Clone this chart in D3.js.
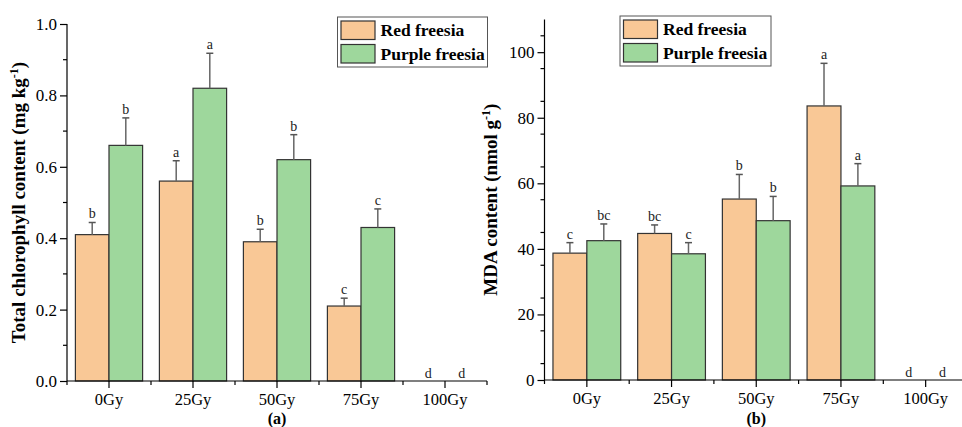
<!DOCTYPE html>
<html><head><meta charset="utf-8">
<script src="https://cdn.jsdelivr.net/npm/d3@7"></script>
<style>body{margin:0;background:#fff}svg{display:block}text{font-family:"Liberation Serif","Times New Roman",serif}</style>
</head><body>
<svg id="c" width="962" height="427"></svg>
<script>
const categories = ["0Gy","25Gy","50Gy","75Gy","100Gy"];
const seriesNames = ["Red freesia","Purple freesia"];
const colors = ["#F9C896","#9ED79C"];
// Panel (a): total chlorophyll
const chlRed = [0.41,0.56,0.39,0.21,0];
const chlRedErr = [0.034,0.057,0.035,0.022,0];
const chlPurple = [0.66,0.82,0.62,0.43,0];
const chlPurpleErr = [0.077,0.098,0.07,0.052,0];
const chlRedLetters = ["b","a","b","c","d"];
const chlPurpleLetters = ["b","a","b","c","d"];
const chlTicks = [0,0.2,0.4,0.6,0.8,1.0];
// Panel (b): MDA
const mdaRed = [38.7,44.7,55.2,83.6,0];
const mdaRedErr = [3.2,2.6,7.5,13.0,0];
const mdaPurple = [42.5,38.5,48.6,59.2,0];
const mdaPurpleErr = [5.1,3.4,7.4,6.8,0];
const mdaRedLetters = ["c","bc","b","a","d"];
const mdaPurpleLetters = ["bc","c","b","a","d"];
const mdaTicks = [0,20,40,60,80,100];

const svg = d3.select("#c");

function panel(o){
  const g = svg.append("g");
  const x = d3.scaleBand().domain(categories).range([o.x0,o.x1]).paddingInner(0.2).paddingOuter(0.1);
  const xb = d3.scaleBand().domain(categories).range([o.x0,o.x1]);
  const y = d3.scaleLinear().domain(o.domain).range([o.y0,o.y1]);
  const sub = d3.scaleBand().domain([0,1]).range([0,x.bandwidth()]);
  const series = [o.red,o.purple], errs=[o.redErr,o.purpleErr], letters=[o.redL,o.purpleL];
  // bars
  series.forEach((vals,si)=>{
    const gg = g.append("g");
    vals.forEach((v,i)=>{
      if(v<=0) return;
      gg.append("rect").attr("x",x(categories[i])+sub(si)).attr("y",y(v))
        .attr("width",sub.bandwidth()).attr("height",y(0)-y(v))
        .attr("fill",colors[si]).attr("stroke","#333").attr("stroke-width",1.2);
    });
  });
  // error bars & letters
  series.forEach((vals,si)=>{
    vals.forEach((v,i)=>{
      const cx = x(categories[i])+sub(si)+sub.bandwidth()/2;
      const top = v+errs[si][i];
      if(v>0){
        g.append("line").attr("x1",cx).attr("x2",cx).attr("y1",y(v)).attr("y2",y(top))
          .attr("stroke","#666").attr("stroke-width",1.5);
        g.append("line").attr("x1",cx-3.5).attr("x2",cx+3.5).attr("y1",y(top)).attr("y2",y(top))
          .attr("stroke","#555").attr("stroke-width",1.5);
      }
      g.append("text").attr("x",cx).attr("y",y(top)-(v>0?4:3)).attr("text-anchor","middle")
        .attr("font-size",14).attr("fill","#222").text(letters[si][i]);
    });
  });
  // y axis
  const minorY = d3.range(o.domain[0]+o.minor, o.domain[1]+o.minor/2, o.minor*2);
  const ya = g.append("g").attr("transform",`translate(${o.x0},0)`)
    .call(d3.axisLeft(y).tickValues(o.ticks).tickSize(7).tickPadding(3).tickFormat(o.fmt));
  ya.selectAll("line,path").attr("stroke","#000").attr("stroke-width",1.2);
  ya.select("path").attr("d",`M0,${o.y0}V${o.y1}`);
  ya.selectAll("text").attr("font-size",17).attr("fill","#000").style("font-family","Liberation Serif");
  minorY.forEach(v=>{
    g.append("line").attr("x1",o.x0-4).attr("x2",o.x0).attr("y1",y(v)).attr("y2",y(v)).attr("stroke","#000").attr("stroke-width",1.2);
  });
  // x axis
  const xa = g.append("g").attr("transform",`translate(0,${o.y0})`)
    .call(d3.axisBottom(xb).tickSize(7).tickPadding(3));
  xa.selectAll("line,path").attr("stroke","#000").attr("stroke-width",1.2);
  xa.select("path").attr("d",`M${o.x0},0H${o.x1}`);
  xa.selectAll("text").attr("font-size",16.5).attr("fill","#000").style("font-family","Liberation Serif").attr("dy","0.82em");
  categories.concat([null]).forEach((c,i)=>{
    const xx = c===null ? o.x1 : xb(c);
    g.append("line").attr("x1",xx).attr("x2",xx).attr("y1",o.y0).attr("y2",o.y0+4).attr("stroke","#000").attr("stroke-width",1.2);
  });
  // y title
  const t = g.append("text").attr("transform",`translate(${o.titleX},${(o.y0+o.y1)/2}) rotate(-90)`)
    .attr("text-anchor","middle").attr("font-size",19).attr("font-weight","bold").attr("fill","#000");
  t.append("tspan").text(o.title);
  t.append("tspan").attr("font-size",12).attr("dy",-7).text("-1");
  t.append("tspan").attr("dy",7).text(")");
  // panel label
  g.append("text").attr("x",(o.x0+o.x1)/2).attr("y",423.5).attr("text-anchor","middle")
    .attr("font-size",16).attr("font-weight","bold").attr("fill","#000").text(o.label);
  // legend
  const lg = g.append("g");
  lg.append("rect").attr("x",o.lx).attr("y",o.ly).attr("width",o.lw).attr("height",50)
    .attr("fill","#fff").attr("stroke","#555").attr("stroke-width",1);
  seriesNames.forEach((n,i)=>{
    lg.append("rect").attr("x",o.lx+3.5).attr("y",o.ly+4+i*23.5).attr("width",34).attr("height",18.5)
      .attr("fill",colors[i]).attr("stroke","#333").attr("stroke-width",1.2);
    lg.append("text").attr("x",o.lx+43).attr("y",o.ly+19+i*23.5).attr("font-size",17.5)
      .attr("font-weight","bold").attr("fill","#000").text(n);
  });
}

panel({x0:67,x1:487,y0:381,y1:24,domain:[0,1.0],ticks:chlTicks,minor:0.1,fmt:d3.format(".1f"),
  red:chlRed,purple:chlPurple,redErr:chlRedErr,purpleErr:chlPurpleErr,redL:chlRedLetters,purpleL:chlPurpleLetters,
  title:"Total chlorophyll content (mg kg",titleX:25,label:"(a)",lx:337.5,ly:17,lw:150});
panel({x0:544.5,x1:968,y0:380,y1:19.4,domain:[0,110],ticks:mdaTicks,minor:5,fmt:d3.format("d"),
  red:mdaRed,purple:mdaPurple,redErr:mdaRedErr,purpleErr:mdaPurpleErr,redL:mdaRedLetters,purpleL:mdaPurpleLetters,
  title:"MDA content (nmol g",titleX:497,label:"(b)",lx:620,ly:16,lw:151});
</script>
</body></html>
